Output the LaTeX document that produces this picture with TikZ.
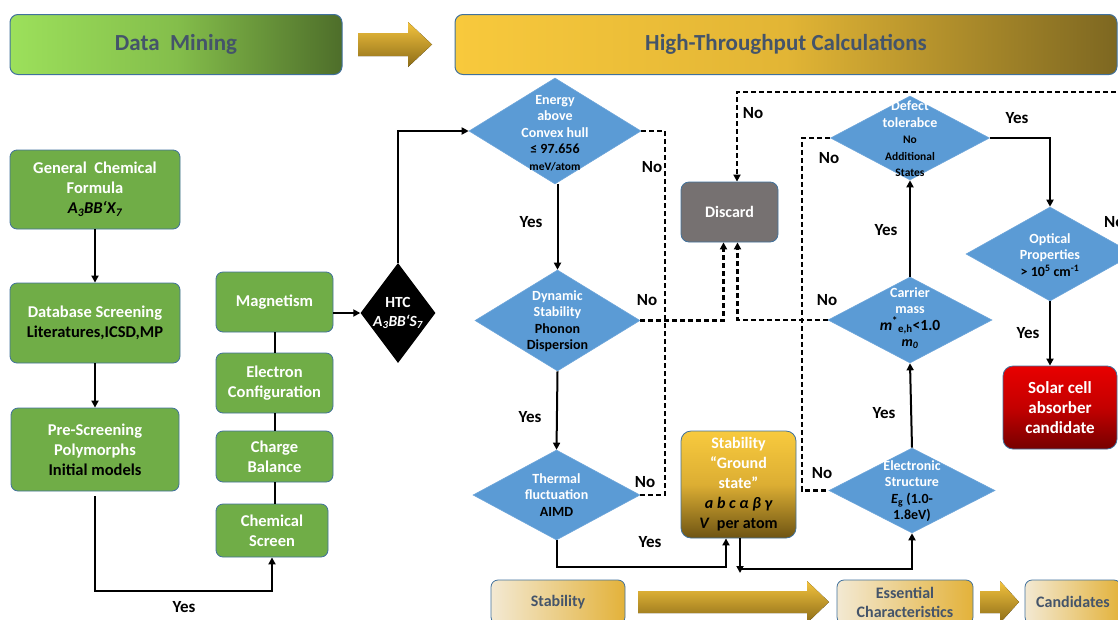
\documentclass[tikz,border=0pt]{standalone}
\usepackage{fontspec}
\setmainfont{Carlito}
\usetikzlibrary{shapes.geometric,arrows.meta,calc}
\definecolor{gfill}{HTML}{70AD47}
\definecolor{bord}{HTML}{41719C}
\definecolor{dblue}{HTML}{5B9BD5}
\definecolor{dblueb}{HTML}{6FA6DA}
\definecolor{slate}{HTML}{44546A}
\definecolor{dgray}{HTML}{767171}
\definecolor{goldA}{HTML}{F3C33E}
\definecolor{goldB}{HTML}{8C6C18}
\definecolor{bandYA}{HTML}{F8C93C}
\definecolor{bandYM}{HTML}{E2B535}
\definecolor{bandYB}{HTML}{7D6721}
\definecolor{bandGA}{HTML}{9CE05B}
\definecolor{bandGM}{HTML}{84BE4B}
\definecolor{bandGB}{HTML}{4E6E2A}
\definecolor{beigeA}{HTML}{F3E9D3}
\definecolor{beigeB}{HTML}{E3B23A}
\definecolor{gsA}{HTML}{F8CA3E}
\definecolor{gsM}{HTML}{DCAE33}
\definecolor{gsB}{HTML}{6E5413}
\definecolor{redA}{HTML}{E80000}
\definecolor{redM}{HTML}{C40000}
\definecolor{redB}{HTML}{760000}
\newcommand\smallfnt{\fontsize{11.5}{14}\selectfont}
\tikzset{
  band/.style={draw=bord, line width=1pt, rounded corners=8pt, text=slate,
    font=\fontsize{23}{26}\selectfont\bfseries, inner sep=0pt},
  gbox/.style={draw=bord, line width=0.8pt, fill=gfill, rounded corners=7pt,
    text=white, font=\fontsize{16.5}{20}\selectfont\bfseries, align=center, inner sep=0pt},
  dia/.style={diamond, fill=dblue, draw=dblueb, line width=0.6pt, inner sep=0pt},
  dtext/.style={text=white, font=\fontsize{14}{16.5}\selectfont\bfseries, align=center, inner sep=0pt},
  bbox/.style={draw=bord, line width=0.8pt, rounded corners=7pt, left color=beigeA, right color=beigeB,
    text=slate, font=\fontsize{16}{19}\selectfont\bfseries, align=center, inner sep=0pt},
  lbl/.style={font=\fontsize{17}{19}\selectfont\bfseries, text=black, inner sep=0pt},
  ln/.style={line width=2pt},
  dl/.style={line width=2.2pt, dash pattern=on 5pt off 3pt},
  ar/.style={-{Triangle[length=7pt,width=7pt]}}
}
\begin{document}
\begin{tikzpicture}[x=1pt,y=-1pt]
\useasboundingbox (0,0) rectangle (1118,619);
\clip (0,0) rectangle (1118,619);

% banners
\node[band, minimum width=332pt, minimum height=60pt, left color=bandGA, right color=bandGB, middle color=bandGM] (dm) at (176,44.5) {Data\ \ Mining};
\fill[top color=goldA, bottom color=goldB] (358,33) -- (408,33) -- (408,22) -- (432,44.5) -- (408,67) -- (408,56) -- (358,56) -- cycle;
\node[band, minimum width=662pt, minimum height=60pt, left color=bandYA, right color=bandYB, middle color=bandYM] (htcb) at (786,44.5) {High-Throughput Calculations};

% data mining column
\node[gbox, minimum width=170pt, minimum height=79pt] (gcf) at (95,189.5) {General\ \ Chemical\\Formula\\\textcolor{black}{\itshape A\textsubscript{3}BB‘X\textsubscript{7}}};
\node[gbox, minimum width=170pt, minimum height=80pt] (db) at (95,323) {Database Screening\\\textcolor{black}{Literatures,ICSD,MP}};
\node[gbox, minimum width=168pt, minimum height=83pt] (pre) at (95,449.5) {Pre-Screening\\Polymorphs\\\textcolor{black}{Initial models}};

\node[gbox, minimum width=117pt, minimum height=60pt] (mag) at (274.5,302) {Magnetism};
\node[gbox, minimum width=117pt, minimum height=60pt] (ec) at (274.5,383) {Electron\\Configuration};
\node[gbox, minimum width=117pt, minimum height=51pt] (cb) at (274.5,456.5) {Charge\\Balance};
\node[gbox, minimum width=112pt, minimum height=53pt] (cs) at (272,530.5) {Chemical\\Screen};

\node[diamond, fill=black, inner sep=0pt, minimum width=75pt, minimum height=100pt] (htc) at (398,313) {};
\node[text=white, font=\fontsize{15.5}{19}\selectfont\bfseries, align=center, inner sep=0pt] (htct) at (398,313) {HTC\\\itshape A\textsubscript{3}BB‘S\textsubscript{7}};

\coordinate (c1) at (95,591);
\draw[ln,ar] (gcf) -- (db);
\draw[ln,ar] (db) -- (pre);
\draw[ln,ar] ([yshift=-5pt]pre.south) -- (c1) -| (cs.south);
\draw[ln] (mag) -- (ec);
\draw[ln] (ec) -- (cb);
\draw[ln] (cb.south) -- (cb.south |- cs.north);
\draw[ln,ar] (mag.east |- htc.west) -- (htc.west);
\node[lbl] (y0) at (184,607) {Yes};

% HTC column 1
\node[dia, minimum width=172pt, minimum height=106pt] (energy) at (555,131) {};
\node[dtext] (energyt) at (555,133) {Energy\\above\\Convex hull\\\textcolor{black}{≤ 97.656}\\\textcolor{black}{\smallfnt meV/atom}};
\node[dia, minimum width=165pt, minimum height=101pt] (dyn) at (557.5,320.5) {};
\node[dtext] (dynt) at (557.5,321) {Dynamic\\Stability\\\textcolor{black}{Phonon}\\\textcolor{black}{Dispersion}};
\node[dia, minimum width=167pt, minimum height=90pt] (therm) at (556.5,495) {};
\node[dtext] (thermt) at (556.5,495) {Thermal\\fluctuation\\\textcolor{black}{AIMD}};

\draw[ln,ar] (htc.north) |- (energy.west);
\draw[ln,ar] (dyn.north |- energy.south) -- (dyn.north);
\draw[ln,ar] (dyn.south) -- (therm.north);

\coordinate (nx) at (665,300);
\draw[dl] (energy.east) -- (energy.east -| nx) -- (nx |- therm.east) -- (therm.east);

% discard and ground state
\node[draw=bord, line width=0.8pt, fill=dgray, rounded corners=8pt, minimum width=97pt, minimum height=60pt, text=white, font=\fontsize{16}{18}\selectfont\bfseries, inner sep=0pt] (discard) at (729.5,212) {Discard};
\node[draw=bord, line width=0.8pt, rounded corners=10pt, top color=gsA, bottom color=gsB, middle color=gsM, minimum width=115pt, minimum height=107pt, text=white, font=\fontsize{16}{20}\selectfont\bfseries, align=center, inner sep=0pt] (gs) at (738.5,484.5) {Stability\\“Ground\\state”\\\textcolor{black}{\itshape a b c α β γ}\\\textcolor{black}{\textit{V}\ \ per atom}};

\draw[dl,ar] (dyn.east) -| ([xshift=-6pt]discard.south);

\coordinate (by) at (700,567);
\coordinate (bj) at (740,569);
\draw[ln,ar] (therm.south) -- (therm.south |- by) -| ([xshift=-12.5pt]gs.south);
\draw[ln,ar] ([xshift=1.5pt]gs.south) -- ([yshift=-4pt]bj);

% HTC right part
\node[dia, minimum width=159pt, minimum height=84pt] (defect) at (910,138) {};
\node[dtext] (defectt) at (910,139) {Defect\\tolerabce\\\textcolor{black}{\smallfnt No}\\\textcolor{black}{\smallfnt Additional}\\\textcolor{black}{\smallfnt States}};
\node[dia, minimum width=164pt, minimum height=86pt] (carrier) at (910,320) {};
\node[dtext] (carriert) at (910,318) {Carrier\\mass\\\textcolor{black}{\fontsize{15.5}{17}\selectfont\textit{m}\textsuperscript{*}\textsubscript{e,h}<1.0}\\\textcolor{black}{\textit{m\textsubscript{0}}}};
\node[dia, minimum width=166pt, minimum height=85pt] (elec) at (912,490.5) {};
\node[dtext] (elect) at (912,491) {Electronic\\Structure\\\textcolor{black}{\textit{E}\textsubscript{g} (1.0-}\\\textcolor{black}{1.8eV)}};
\node[dia, minimum width=168pt, minimum height=94pt] (opt) at (1050,254) {};
\node[dtext] (optt) at (1050,255) {Optical\\Properties\\\textcolor{black}{> 10\textsuperscript{5} cm\textsuperscript{-1}}};
\node[draw=bord, line width=0.8pt, rounded corners=10pt, top color=redA, bottom color=redB, middle color=redM, minimum width=114pt, minimum height=83pt, text=white, font=\fontsize{17}{20}\selectfont\bfseries, align=center, inner sep=0pt] (solar) at (1060,407.5) {Solar cell\\absorber\\candidate};

\draw[ln,ar] (bj) -| (elec.south);
\draw[ln,ar] (elec.north) -- (carrier.south);
\draw[ln,ar] (carrier.north) -- (defect.south);
\draw[ln,ar] (defect.east) -| (opt.north);
\draw[ln,ar] (opt.south) -- (opt.south |- solar.north);

\coordinate (dx) at (802,300);
\draw[dl] (defect.west) -- (defect.west -| dx) -- (dx |- elec.west) -- (elec.west);
\draw[dl,ar] (carrier.west) -| ([xshift=8pt]discard.south);
\coordinate (tr) at (1140,92);
\coordinate (tl) at (737,92);
\draw[dl,ar] (opt.east) -| (tr) -- (tl) -- (tl |- discard.north);

% labels
\node[lbl] (n1) at (652,167) {No};
\node[lbl] (n2) at (647,300) {No};
\node[lbl] (n3) at (645,482) {No};
\node[lbl] (n4) at (753,113) {No};
\node[lbl] (n5) at (829,158) {No};
\node[lbl] (n6) at (827,300) {No};
\node[lbl] (n7) at (822,473) {No};
\node[lbl, anchor=west] (n8) at (1104,222) {No};
\node[lbl] (y1) at (531,222) {Yes};
\node[lbl] (y2) at (530,417) {Yes};
\node[lbl] (y3) at (650,542) {Yes};
\node[lbl] (y4) at (886,230) {Yes};
\node[lbl] (y5) at (884,413) {Yes};
\node[lbl] (y6) at (1017,118) {Yes};
\node[lbl] (y7) at (1028,333) {Yes};

% bottom bar
\node[bbox, minimum width=134pt, minimum height=44pt] (bs) at (558,602) {Stability};
\fill[top color=goldA, bottom color=goldB] (638,591) -- (807,591) -- (807,581) -- (829,602) -- (807,623) -- (807,613) -- (638,613) -- cycle;
\node[bbox, minimum width=136pt, minimum height=44pt] (be) at (905,602) {Essential\\Characteristics};
\fill[top color=goldA, bottom color=goldB] (980,591) -- (1000,591) -- (1000,581) -- (1019,602) -- (1000,623) -- (1000,613) -- (980,613) -- cycle;
\node[bbox, minimum width=96pt, minimum height=44pt] (bc) at (1073,602) {Candidates};
\end{tikzpicture}
\end{document}
